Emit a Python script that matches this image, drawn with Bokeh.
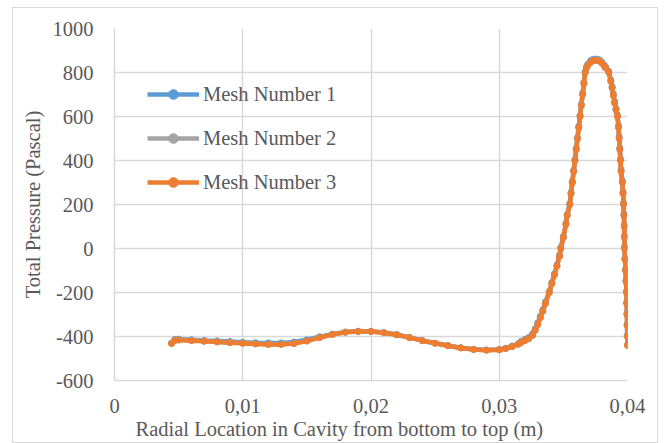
from bokeh.plotting import figure
from bokeh.models import FixedTicker, Legend, LegendItem, Range1d, Title
from bokeh.embed import file_html
from bokeh.resources import INLINE

# ---- data ----
radial_x = [
    0.00445, 0.0047, 0.005, 0.006, 0.007, 0.008, 0.009, 0.010, 0.011, 0.012,
    0.013, 0.014, 0.015, 0.016, 0.017, 0.018, 0.019, 0.020, 0.021, 0.022,
    0.023, 0.024, 0.025, 0.026, 0.027, 0.028, 0.029, 0.030, 0.0305, 0.031,
    0.0315, 0.0317, 0.0320, 0.0323, 0.0326, 0.0328, 0.0330, 0.0332, 0.0334, 0.0336,
    0.0339, 0.0341, 0.0343, 0.0345, 0.0347, 0.0348, 0.0350, 0.0352, 0.0353, 0.0355,
    0.0356, 0.0357, 0.0358, 0.0359, 0.0360, 0.0361, 0.0362, 0.0363, 0.0364, 0.0365,
    0.0366, 0.0367, 0.0368, 0.0369, 0.0371, 0.0372, 0.0374, 0.03758, 0.0378, 0.0380,
    0.0382, 0.0383, 0.03854, 0.0387, 0.0388, 0.0389, 0.0390, 0.0391, 0.03922, 0.0393,
    0.03935, 0.0394, 0.03945, 0.0395, 0.0396, 0.03965, 0.03969, 0.03972, 0.03975, 0.03976,
    0.03977, 0.0398, 0.03985, 0.03988, 0.03992, 0.03994, 0.03996, 0.03997, 0.03998, 0.0400,
]

mesh1_pressure = [
    -430, -414, -412, -415, -418, -420, -423, -426, -428, -429,
    -429, -425, -415, -401, -389, -380, -376, -376, -382, -391,
    -404, -418, -430, -441, -451, -458, -461, -459, -453, -443,
    -432, -423, -414, -404, -388, -365, -338, -308, -278, -243,
    -195, -155, -115, -75, -30, 5, 55, 115, 155, 205,
    255, 305, 355, 405, 455, 505, 555, 605, 655, 705,
    755, 804, 825, 838, 851, 857, 861, 861, 858, 848,
    833, 825, 805, 766, 737, 702, 668, 637, 607, 558,
    508, 458, 408, 358, 308, 258, 208, 158, 108, 58,
    8, -44, -94, -144, -194, -244, -294, -344, -394, -439,
]

mesh2_pressure = [
    -431, -417, -415, -418, -421, -424, -427, -430, -433, -435,
    -435, -431, -420, -404, -390, -380, -376, -377, -383, -392,
    -405, -419, -431, -442, -452, -459, -462, -460, -455, -446,
    -435, -427, -418, -410, -395, -372, -345, -315, -285, -250,
    -200, -160, -120, -80, -35, 0, 50, 110, 150, 200,
    250, 300, 350, 400, 450, 500, 550, 600, 650, 700,
    750, 800, 822, 835, 848, 853, 857, 858, 855, 845,
    830, 822, 802, 762, 732, 697, 662, 632, 602, 552,
    502, 452, 402, 352, 302, 252, 202, 152, 102, 52,
    2, -48, -98, -148, -198, -248, -298, -348, -398, -440,
]

mesh3_pressure = [
    -432, -418, -416, -419, -422, -425, -428, -431, -434, -436,
    -436, -432, -421, -405, -391, -381, -377, -377, -383, -392,
    -405, -419, -431, -442, -452, -459, -462, -460, -455, -446,
    -435, -427, -418, -410, -395, -372, -345, -315, -285, -250,
    -200, -160, -120, -80, -35, 0, 50, 110, 150, 200,
    250, 300, 350, 400, 450, 500, 550, 600, 650, 700,
    750, 800, 820, 832, 845, 850, 854, 855, 852, 842,
    827, 820, 800, 760, 730, 695, 660, 630, 600, 550,
    500, 450, 400, 350, 300, 250, 200, 150, 100, 50,
    0, -50, -100, -150, -200, -250, -300, -350, -400, -441,
]

series_names = ["Mesh Number 1", "Mesh Number 2", "Mesh Number 3"]
series_colors = ["#5b9bd5", "#a5a5a5", "#ed7d31"]

x_ticks = [0, 0.01, 0.02, 0.03, 0.04]
x_tick_labels = ["0", "0,01", "0,02", "0,03", "0,04"]
y_ticks = [-600, -400, -200, 0, 200, 400, 600, 800, 1000]
y_tick_labels = ["-600", "-400", "-200", "0", "200", "400", "600", "800", "1000"]

FONT = "Liberation Serif"
TXT = "#595959"
GRID = "#d9d9d9"
FS = "20.5px"

p = figure(
    width=646, height=436,
    output_backend="svg", toolbar_location=None,
    x_range=Range1d(0, 0.04), y_range=Range1d(-600, 1000),
    min_border_left=101, min_border_right=32, min_border_top=20, min_border_bottom=64,
)
p.margin = (7, 0, 0, 12)
p.styles = {"border": "1px solid #d9d9d9"}
p.outline_line_color = None
p.background_fill_color = "white"
p.border_fill_color = "white"

for ax in (p.xaxis, p.yaxis):
    ax.major_tick_line_color = None
    ax.minor_tick_line_color = None
    ax.axis_line_color = GRID
    ax.axis_line_width = 1.5
    ax.major_label_text_font = FONT
    ax.major_label_text_font_size = FS
    ax.major_label_text_color = TXT
    ax.axis_label_text_font = FONT
    ax.axis_label_text_font_size = FS
    ax.axis_label_text_color = TXT
    ax.axis_label_text_font_style = "normal"

p.xaxis.ticker = FixedTicker(ticks=x_ticks)
p.xaxis.major_label_overrides = {t: l for t, l in zip(x_ticks, x_tick_labels)}
p.yaxis.ticker = FixedTicker(ticks=y_ticks)
p.yaxis.major_label_overrides = {t: l for t, l in zip(y_ticks, y_tick_labels)}
p.xaxis.major_label_standoff = 12
p.yaxis.major_label_standoff = 15
p.yaxis.axis_label = "Total Pressure (Pascal)"
p.yaxis.axis_label_standoff = 6

xtitle = Title(
    text="Radial Location in Cavity from bottom to top (m)", align="left", offset=21,
    text_font=FONT, text_font_size=FS, text_color=TXT, text_font_style="normal",
    standoff=0,
)
p.add_layout(xtitle, "below")

p.xgrid.grid_line_color = GRID
p.ygrid.grid_line_color = GRID
p.xgrid.grid_line_width = 1.5
p.ygrid.grid_line_width = 1.5

items = []
for name, color, ys in zip(series_names, series_colors,
                           [mesh1_pressure, mesh2_pressure, mesh3_pressure]):
    ln = p.line(radial_x, ys, line_color=color, line_width=4.5)
    sc = p.scatter(radial_x, ys, size=6, fill_color=color, line_color=color)
    items.append(LegendItem(label=name, renderers=[ln, sc]))

legend = Legend(
    items=items, location=(33, 186),
    glyph_width=52, glyph_height=24, spacing=20, padding=0, margin=0,
    label_text_font=FONT, label_text_font_size=FS, label_text_color=TXT,
    label_standoff=4, background_fill_alpha=0, border_line_alpha=0,
)
p.add_layout(legend, "center")

open("out.html", "w").write(file_html(p, INLINE))
